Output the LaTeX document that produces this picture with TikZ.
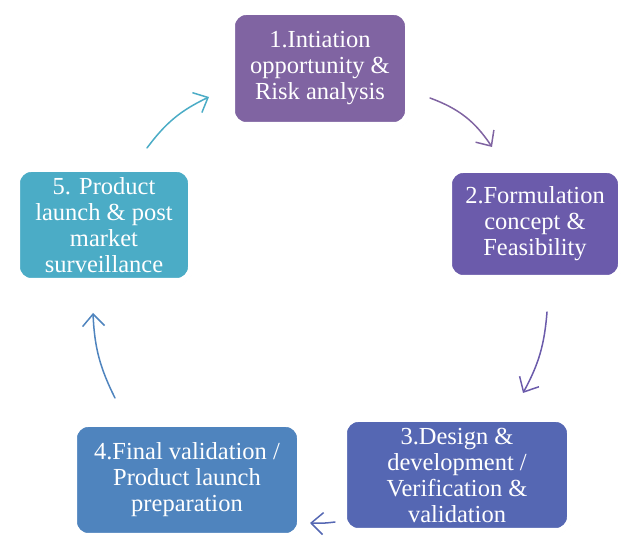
\documentclass[tikz,border=0pt]{standalone}
\usepackage{fontspec}
\setmainfont{Liberation Serif}
\usetikzlibrary{arrows.meta,shadows}
\definecolor{cstepa}{HTML}{8064A2}
\definecolor{cstepb}{HTML}{6B5BAB}
\definecolor{cstepc}{HTML}{5567B3}
\definecolor{cstepd}{HTML}{4F84BE}
\definecolor{cstepe}{HTML}{4BACC6}

\begin{document}
\begin{tikzpicture}[line cap=round,line join=round,>={Straight Barb[length=12pt,width=22pt]},x=1pt,y=1pt,
	stepbox/.style={draw=white,line width=6pt,rounded corners=14pt,text=white,align=center,
		inner sep=0pt,font=\fontsize{24.5}{26}\selectfont,
		drop shadow={shadow xshift=1.5pt,shadow yshift=-2pt,fill=black!30,opacity=0.4}},
	cyclearrow/.style={->,line width=1.5pt}]
		\useasboundingbox (0,0) rectangle (621,540);
		% boxes of the cycle
		\node[stepbox,fill=cstepa,minimum width=176,minimum height=113] (initiation) at (320,471.5) {1.Intiation\\opportunity \&\\Risk analysis};
		\node[stepbox,fill=cstepb,minimum width=172,minimum height=108] (formulation) at (535,316) {2.Formulation\\concept \&\\Feasibility};
		\node[stepbox,fill=cstepc,minimum width=226,minimum height=112] (design) at (457,65) {3.Design \&\\development /\\Verification \&\\validation};
		\node[stepbox,fill=cstepd,minimum width=226,minimum height=112] (final) at (187,60) {4.Final validation /\\Product launch\\preparation};
		\node[stepbox,fill=cstepe,minimum width=174,minimum height=112] (launch) at (104,315) {5. Product\\launch \& post\\market\\surveillance};
		% arrow ends
		\coordinate (ab1) at (430,442);
		\coordinate (ae1) at (492,393);
		\coordinate (ab2) at (547,228);
		\coordinate (ae2) at (523,147);
		\coordinate (ab3) at (335,18);
		\coordinate (ae3) at (310,17);
		\coordinate (ab4) at (115,142);
		\coordinate (ae4) at (93,227);
		\coordinate (ab5) at (147,392);
		\coordinate (ae5) at (209,443);
		\draw[cyclearrow,color=cstepa] (ab1) to[bend left=18] (ae1);
		\draw[cyclearrow,color=cstepb] (ab2) to[bend left=12] (ae2);
		\draw[cyclearrow,color=cstepc] (ab3) to[bend left=5] (ae3);
		\draw[cyclearrow,color=cstepd] (ab4) to[bend left=12] (ae4);
		\draw[cyclearrow,color=cstepe] (ab5) to[bend left=14] (ae5);
	\end{tikzpicture}
\end{document}
